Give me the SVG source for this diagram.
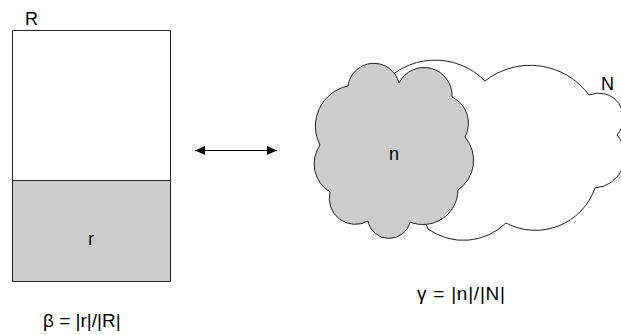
<svg xmlns="http://www.w3.org/2000/svg" width="621" height="335" viewBox="0 0 621 335">
<style>
.lbl{font-family:"Liberation Sans",Arial,sans-serif;font-size:18px;fill:#000}
.fml{font-family:"Liberation Sans",Arial,sans-serif;font-size:19px;fill:#000}
.outline{stroke:#222;stroke-width:1;stroke-linejoin:round}
</style>
<defs>
<marker id="ah" markerUnits="userSpaceOnUse" markerWidth="10" markerHeight="9" refX="10" refY="4.5" orient="auto-start-reverse">
<path d="M0,0 L10,4.5 L0,9 z" fill="#000"/>
</marker>
</defs>
<rect x="0" y="0" width="621" height="335" fill="#fff"/>
<g id="R">
<rect class="outline" x="12.5" y="30.5" width="158" height="251" fill="#fff"/>
<text class="lbl" x="25" y="25">R</text>
</g>
<g id="r">
<rect class="outline" x="12.5" y="180.5" width="158" height="101" fill="#cccccc"/>
<text class="lbl" x="88" y="245">r</text>
</g>
<g id="N">
<path class="outline" fill="#fff" d="M380,87 A70,70 0 0 1 485,81 A73,73 0 0 1 589,95 A25,25 0 0 1 617,135 A32,32 0 0 1 595,188 A63,63 0 0 1 506,223 A61,61 0 0 1 428,229 L400,160 Z"/>
<text class="lbl" x="601" y="90">N</text>
</g>
<g id="n">
<path class="outline" fill="#cccccc" d="M348,86 A26,26 0 0 1 399,83 A28,28 0 0 1 452,97 A29,29 0 0 1 465,137 A36,36 0 0 1 458,190 A35,35 0 0 1 410,222 A21.5,21.5 0 0 1 368,221 A26,26 0 0 1 330,192 A33,33 0 0 1 320,145 A41,41 0 0 1 348,86 Z"/>
<text class="lbl" x="389" y="160">n</text>
</g>
<g id="connectors">
<line x1="195" y1="150.5" x2="277" y2="150.5" stroke="#000" stroke-width="1.2" marker-start="url(#ah)" marker-end="url(#ah)"/>
</g>
<g id="formulas">
<text class="fml" x="43" y="327">β = |r|/|R|</text>
<text class="fml" x="417" y="300" textLength="88" lengthAdjust="spacing">γ = |n|/|N|</text>
</g>
</svg>
